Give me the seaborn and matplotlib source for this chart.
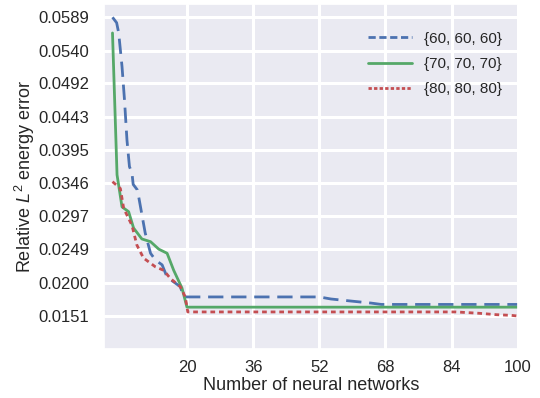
import numpy as np
import pandas as pd
import matplotlib
matplotlib.use("Agg")
import matplotlib.pyplot as plt
import seaborn as sns

# ---- data ----
blue_x = [2, 3, 3.5, 4.3, 4.9, 5.5, 6.1, 6.7, 7, 8, 8.3, 9.9, 11.2, 12.4, 14, 15.2, 16.8, 18.4, 19.2, 52, 54.8, 59.6, 64.5, 67, 100]
blue_y = [0.0589, 0.0581, 0.0566, 0.0517, 0.0468, 0.0409, 0.0370, 0.0361, 0.0344, 0.0336, 0.0327, 0.0273, 0.0243,
          0.0233, 0.0226, 0.0208, 0.0201, 0.0194, 0.0179, 0.0179, 0.0176, 0.0173, 0.0170, 0.0168, 0.0168]

green_x = [2, 3.1, 4.3, 5.9, 7.1, 9.1, 11.2, 13.2, 15.2, 16.8, 18.8, 20, 100]
green_y = [0.0566, 0.0358, 0.0311, 0.0304, 0.0280, 0.0264, 0.0260, 0.0249, 0.0243, 0.0218, 0.0192, 0.0164, 0.0164]

red_x = [2, 3.9, 4.7, 6.7, 7.9, 9.5, 12.4, 14.4, 16, 18.4, 19.6, 20.2, 85.1, 90.7, 94.8, 98.4, 100]
red_y = [0.0348, 0.0338, 0.0309, 0.0284, 0.0255, 0.0236, 0.0223, 0.0218, 0.0206, 0.0194, 0.0179, 0.0157,
         0.0157, 0.0155, 0.0153, 0.0152, 0.0151]

series_labels = ["{60, 60, 60}", "{70, 70, 70}", "{80, 80, 80}"]
x_ticks = [20, 36, 52, 68, 84, 100]
y_tick_labels = ["0.0151", "0.0200", "0.0249", "0.0297", "0.0346", "0.0395", "0.0443", "0.0492", "0.0540", "0.0589"]

# ---- style ----
sns.set_theme(style="darkgrid", rc={"grid.linewidth": 2.2})
plt.rcParams["font.family"] = ["Liberation Sans", "DejaVu Sans"]
plt.rcParams["mathtext.fontset"] = "custom"
plt.rcParams["mathtext.it"] = "Liberation Sans:italic"
plt.rcParams["mathtext.rm"] = "Liberation Sans"

colors = ["#4C72B0", "#55A868", "#C44E52"]

fig, ax = plt.subplots(figsize=(5.4, 3.98), dpi=100)
fig.subplots_adjust(left=0.193, right=0.959, top=0.99, bottom=0.123)

df_b = pd.DataFrame({"x": blue_x, "y": blue_y})
df_g = pd.DataFrame({"x": green_x, "y": green_y})
df_r = pd.DataFrame({"x": red_x, "y": red_y})

sns.lineplot(data=df_b, x="x", y="y", ax=ax, color=colors[0], lw=2, label=series_labels[0])
sns.lineplot(data=df_g, x="x", y="y", ax=ax, color=colors[1], lw=2, label=series_labels[1])
sns.lineplot(data=df_r, x="x", y="y", ax=ax, color=colors[2], lw=2, label=series_labels[2])
lines = ax.get_lines()
lines[0].set_dashes((5.5, 2.8))
lines[2].set_dashes((1.7, 1.4))

ax.set_xlim(0, 100)
ax.set_ylim(0.01026, 0.06085)
ax.set_xticks(x_ticks)
ax.set_yticks([float(v) for v in y_tick_labels])
ax.set_yticklabels(y_tick_labels)
ax.tick_params(axis="y", labelsize=12, pad=5)
ax.tick_params(axis="x", labelsize=12, pad=2)
ax.set_xlabel("Number of neural networks", fontsize=13, labelpad=1)
ax.set_ylabel(r"Relative $L^2$ energy error", fontsize=13, labelpad=1)

leg = ax.legend(loc="upper right", frameon=False, fontsize=11, handlelength=2.9,
                bbox_to_anchor=(0.995, 0.96), labelspacing=0.75, handletextpad=0.8)
leg_lines = leg.get_lines()
for h in leg_lines:
    h.set_linewidth(2)
leg_lines[0].set_dashes((2.6, 1.3))
leg_lines[2].set_dashes((1.2, 0.8))

fig.savefig("out.png", dpi=100)
